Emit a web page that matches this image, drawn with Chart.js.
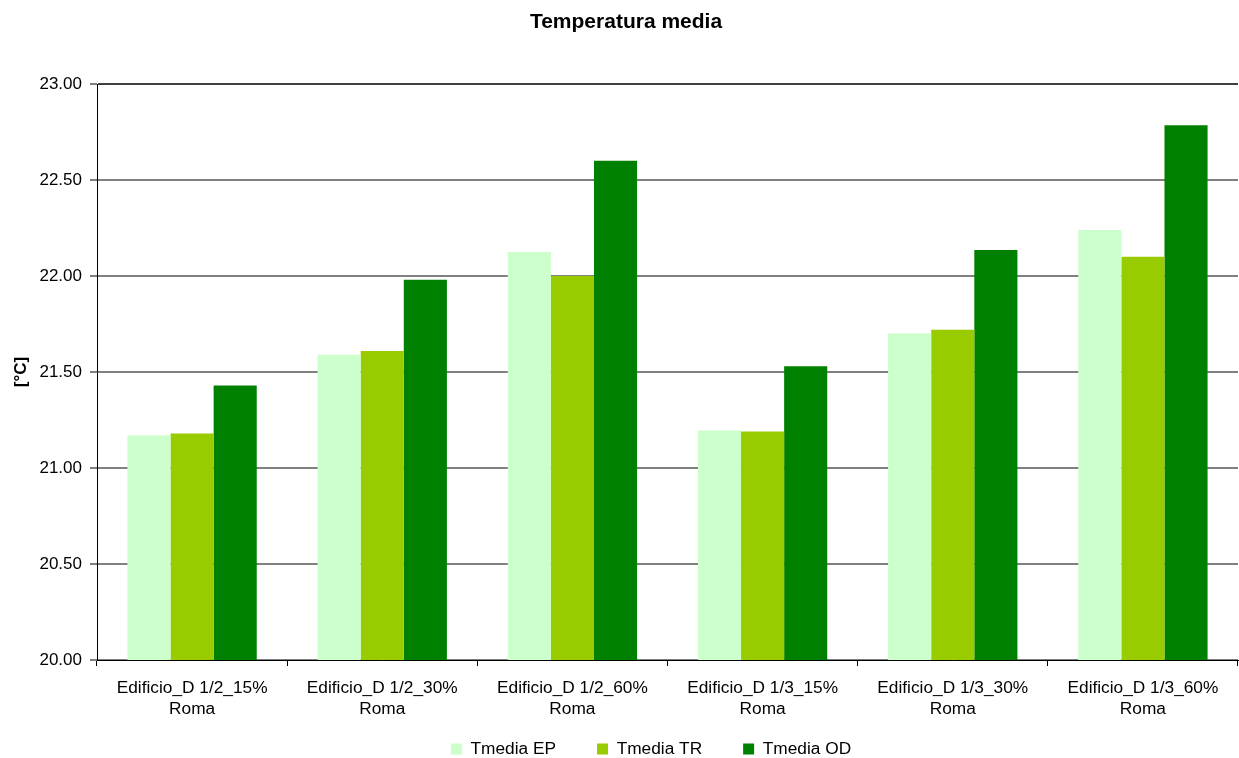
<!DOCTYPE html>
<html>
<head>
<meta charset="utf-8">
<script src="https://cdn.jsdelivr.net/npm/chart.js@4/dist/chart.umd.min.js"></script>
<style>
  html, body { margin: 0; padding: 0; background: #fff; }
  #wrap { width: 1239px; height: 758px; }
</style>
</head>
<body>
<div id="wrap"><canvas id="chart-temp"></canvas></div>
<script>
// dati
const categorie = [
  ["Edificio_D 1/2_15%", "Roma"],
  ["Edificio_D 1/2_30%", "Roma"],
  ["Edificio_D 1/2_60%", "Roma"],
  ["Edificio_D 1/3_15%", "Roma"],
  ["Edificio_D 1/3_30%", "Roma"],
  ["Edificio_D 1/3_60%", "Roma"]
];
const tmediaEP = [21.17, 21.59, 22.125, 21.195, 21.70, 22.24];
const tmediaTR = [21.18, 21.61, 22.00, 21.19, 21.72, 22.10];
const tmediaOD = [21.43, 21.98, 22.60, 21.53, 22.135, 22.785];

Chart.defaults.font.family = "'Liberation Sans', Arial, sans-serif";
Chart.defaults.font.size = 17;
Chart.defaults.color = "#000";

// sposta legenda e titolo come nell'originale
const spostaBlocchi = {
  id: "spostaBlocchi",
  afterLayout(chart) {
    const lg = chart.legend;
    if (lg) {
      lg.left += 32; lg.right += 32;
      lg.top -= 21.65; lg.bottom -= 21.65;
    }
    const tt = chart.titleBlock;
    if (tt) { tt.left += 7; tt.right += 7; }
  }
};

const ctx = document.getElementById("chart-temp").getContext("2d");

new Chart(ctx, {
  type: "bar",
  data: {
    labels: categorie,
    datasets: [
      { label: "Tmedia EP", data: tmediaEP, backgroundColor: "#CCFFCC" },
      { label: "Tmedia TR", data: tmediaTR, backgroundColor: "#99CC00" },
      { label: "Tmedia OD", data: tmediaOD, backgroundColor: "#008000" }
    ]
  },
  plugins: [spostaBlocchi],
  options: {
    responsive: true,
    maintainAspectRatio: false,
    animation: false,
    categoryPercentage: 0.68,
    barPercentage: 1.0,
    layout: { padding: { left: 0, right: 1, top: 0, bottom: -31.3 } },
    plugins: {
      title: {
        display: true,
        text: "Temperatura media",
        color: "#000",
        font: { size: 21, weight: "bold" },
        padding: { top: 9.5, bottom: 49.3 }
      },
      legend: {
        position: "bottom",
        labels: {
          boxWidth: 11,
          boxHeight: 11,
          padding: 41,
          color: "#000",
          font: { size: 17.3 }
        }
      },
      tooltip: { enabled: false }
    },
    scales: {
      x: {
        afterFit: (scale) => { scale.height = 61; },
        grid: {
          display: true,
          drawOnChartArea: false,
          offset: true,
          color: "#000",
          tickLength: 6,
          tickWidth: 1
        },
        border: { display: true, color: "#000", width: 1 },
        ticks: { padding: 12, maxRotation: 0, autoSkip: false, font: { size: 17.3 } }
      },
      y: {
        min: 20,
        max: 23,
        afterFit: (scale) => { scale.width = 97; },
        title: {
          display: true,
          text: "[°C]",
          font: { size: 17, weight: "bold" },
          padding: { top: 11, bottom: 0 }
        },
        grid: {
          color: (c) => c.tick && c.tick.value === 23 ? "#404040" : "#808080",
          lineWidth: 2,
          tickLength: 7,
          tickColor: "#000",
          tickWidth: 1
        },
        border: { display: true, color: "#000", width: 1 },
        ticks: {
          stepSize: 0.5,
          padding: 8,
          callback: (v) => Number(v).toFixed(2)
        }
      }
    }
  }
});
</script>
</body>
</html>
